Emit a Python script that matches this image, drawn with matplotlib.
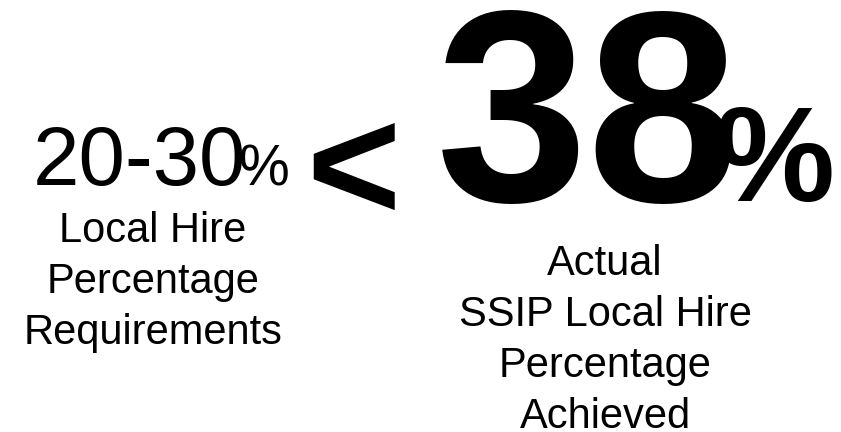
import matplotlib.pyplot as plt
from matplotlib.textpath import TextPath
from matplotlib.font_manager import FontProperties

# Textos do infográfico
requisito = "20-30"
atingido = "38"
sinal = "<"
rotulo_requisito = ["Local Hire", "Percentage", "Requirements"]
rotulo_atingido = ["Actual", "SSIP Local Hire", "Percentage", "Achieved"]

plt.rcParams['font.family'] = ['Liberation Sans', 'DejaVu Sans']

fig = plt.figure(figsize=(8.41, 4.32), dpi=100)
ax = fig.add_axes([0, 0, 1, 1])
ax.set_xlim(0, 841)
ax.set_ylim(432, 0)
ax.axis('off')


# Coloca o texto de modo que a tinta fique entre topo e base (em pixels)
def colocar(s, esq, topo, base, peso='normal'):
    fp = FontProperties(family='Liberation Sans', weight=peso)
    bb = TextPath((0, 0), s, size=100, prop=fp).get_extents()
    k = (base - topo) / bb.height
    ax.text(esq - bb.x0 * k, base + bb.y0 * k, s, fontproperties=fp,
            fontsize=100 * k * 72 / 100, ha='left', va='baseline')


# Lado esquerdo: 20-30%
colocar(requisito, 37, 127, 186)
colocar("%", 241, 146, 186)

# Sinal de menor
colocar(sinal, 313, 123, 210, 'bold')

# Lado direito: 38%
colocar(atingido, 442, 10, 204, 'bold')
colocar("%", 718, 107, 202, 'bold')

# Rótulos (uma linha por texto)
for i, linha in enumerate(rotulo_requisito):
    ax.text(153, 242 + i * 51, linha, fontsize=30, ha='center', va='baseline')
for i, linha in enumerate(rotulo_atingido):
    ax.text(605, 275 + i * 51, linha, fontsize=30, ha='center', va='baseline')

plt.savefig("out.png", dpi=100)
